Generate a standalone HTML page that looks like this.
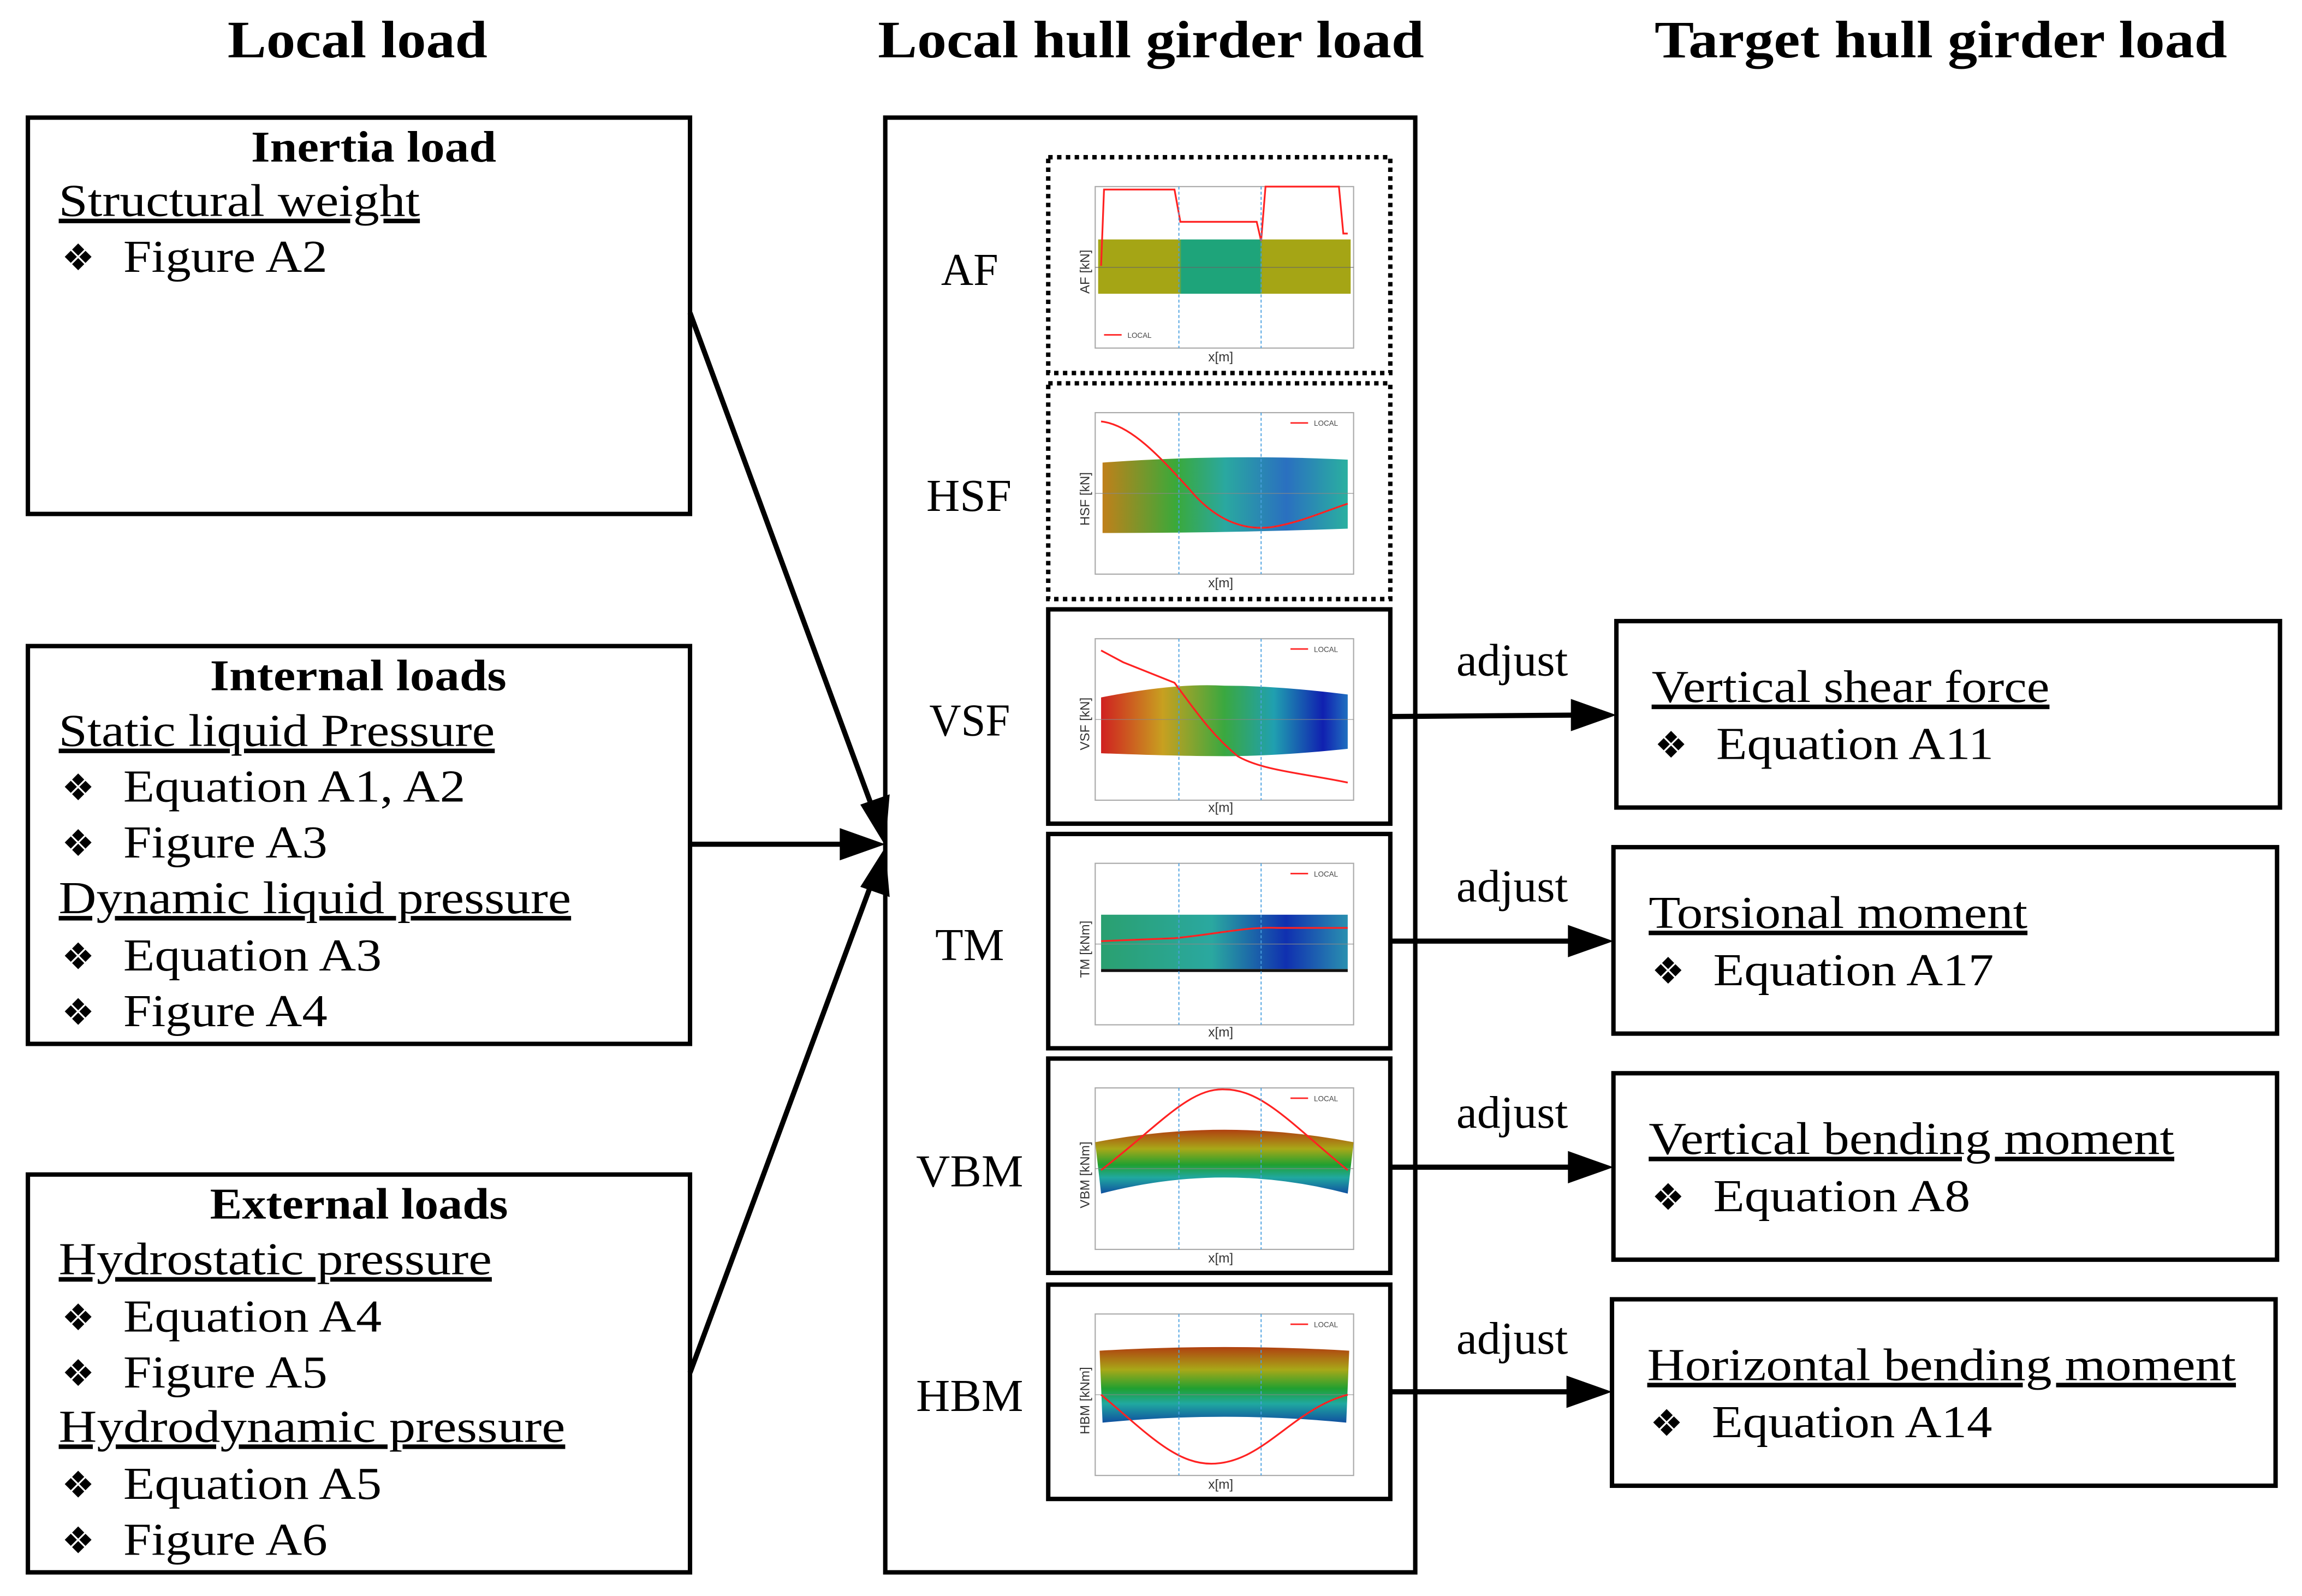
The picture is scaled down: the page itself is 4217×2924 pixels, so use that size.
<!DOCTYPE html>
<html><head><meta charset="utf-8"><style>
html,body{margin:0;padding:0;background:#fff}
svg{display:block}
text{font-family:"Liberation Serif",serif;fill:#000}
.t{font-weight:bold;font-size:36px}
.h{font-weight:bold;font-size:30px}
.b{font-size:31px}
.u{text-decoration:underline}
.d{font-family:"DejaVu Sans",sans-serif;font-size:25px}
.pl{font-size:31px}
.sm{font-family:"Liberation Sans",sans-serif;font-size:9px;fill:#333}
.leg{font-family:"Liberation Sans",sans-serif;font-size:5px;fill:#444}
</style></head><body>
<svg width="4217" height="2924" viewBox="0 0 1568 1087" xmlns="http://www.w3.org/2000/svg">
<defs>
<linearGradient id="gAF" x1="0" x2="1"><stop offset="0" stop-color="#a5a515"/><stop offset="0.32" stop-color="#a5a515"/><stop offset="0.33" stop-color="#1ea47a"/><stop offset="0.64" stop-color="#1ea47a"/><stop offset="0.65" stop-color="#a5a515"/><stop offset="1" stop-color="#a5a515"/></linearGradient>
<linearGradient id="gHSF" x1="0" x2="1"><stop offset="0" stop-color="#c0801a"/><stop offset="0.3" stop-color="#3aa93a"/><stop offset="0.5" stop-color="#2aa8a0"/><stop offset="0.75" stop-color="#2a70c0"/><stop offset="1" stop-color="#2ab0a0"/></linearGradient>
<linearGradient id="gVSF" x1="0" x2="1"><stop offset="0" stop-color="#d02020"/><stop offset="0.25" stop-color="#c8a020"/><stop offset="0.5" stop-color="#3aa840"/><stop offset="0.7" stop-color="#20a0b0"/><stop offset="0.9" stop-color="#1020b0"/><stop offset="1" stop-color="#2070c0"/></linearGradient>
<linearGradient id="gTM" x1="0" x2="1"><stop offset="0" stop-color="#2aa070"/><stop offset="0.45" stop-color="#2aa8a0"/><stop offset="0.75" stop-color="#1030b0"/><stop offset="1" stop-color="#2a90b0"/></linearGradient>
<linearGradient id="gV" x1="0" x2="0" y1="0" y2="1"><stop offset="0" stop-color="#b04010"/><stop offset="0.3" stop-color="#a8a818"/><stop offset="0.55" stop-color="#20a030"/><stop offset="0.75" stop-color="#20a8a0"/><stop offset="1" stop-color="#1050a0"/></linearGradient>
</defs>

<text class="t" x="155" y="39" textLength="177" lengthAdjust="spacingAndGlyphs">Local load</text>
<text class="t" x="598" y="39" textLength="372" lengthAdjust="spacingAndGlyphs">Local hull girder load</text>
<text class="t" x="1127" y="39" textLength="390" lengthAdjust="spacingAndGlyphs">Target hull girder load</text>

<g fill="none" stroke="#000" stroke-width="3">
<rect x="19" y="80" width="451" height="270"/>
<rect x="19" y="440" width="451" height="271"/>
<rect x="19" y="800" width="451" height="271"/>
<rect x="603" y="80" width="361" height="991"/>
<rect x="1101" y="423" width="452" height="127"/>
<rect x="1099" y="577" width="452" height="127"/>
<rect x="1099" y="731" width="452" height="127"/>
<rect x="1098" y="885" width="452" height="127"/>
</g>

<text class="h" x="171" y="110" textLength="167" lengthAdjust="spacingAndGlyphs">Inertia load</text>
<text class="b u" x="40" y="147" textLength="246" lengthAdjust="spacingAndGlyphs">Structural weight</text>
<text class="d" x="42" y="184">❖</text><text class="b" x="84" y="185" textLength="139" lengthAdjust="spacingAndGlyphs">Figure A2</text>

<text class="h" x="143" y="470" textLength="202" lengthAdjust="spacingAndGlyphs">Internal loads</text>
<text class="b u" x="40" y="508" textLength="297" lengthAdjust="spacingAndGlyphs">Static liquid Pressure</text>
<text class="d" x="42" y="545">❖</text><text class="b" x="84" y="546" textLength="233" lengthAdjust="spacingAndGlyphs">Equation A1, A2</text>
<text class="d" x="42" y="583">❖</text><text class="b" x="84" y="584" textLength="139" lengthAdjust="spacingAndGlyphs">Figure A3</text>
<text class="b u" x="40" y="622" textLength="349" lengthAdjust="spacingAndGlyphs">Dynamic liquid pressure</text>
<text class="d" x="42" y="660">❖</text><text class="b" x="84" y="661" textLength="176" lengthAdjust="spacingAndGlyphs">Equation A3</text>
<text class="d" x="42" y="698">❖</text><text class="b" x="84" y="699" textLength="139" lengthAdjust="spacingAndGlyphs">Figure A4</text>

<text class="h" x="143" y="830" textLength="203" lengthAdjust="spacingAndGlyphs">External loads</text>
<text class="b u" x="40" y="868" textLength="295" lengthAdjust="spacingAndGlyphs">Hydrostatic pressure</text>
<text class="d" x="42" y="906">❖</text><text class="b" x="84" y="907" textLength="176" lengthAdjust="spacingAndGlyphs">Equation A4</text>
<text class="d" x="42" y="944">❖</text><text class="b" x="84" y="945" textLength="139" lengthAdjust="spacingAndGlyphs">Figure A5</text>
<text class="b u" x="40" y="982" textLength="345" lengthAdjust="spacingAndGlyphs">Hydrodynamic pressure</text>
<text class="d" x="42" y="1020">❖</text><text class="b" x="84" y="1021" textLength="176" lengthAdjust="spacingAndGlyphs">Equation A5</text>
<text class="d" x="42" y="1058">❖</text><text class="b" x="84" y="1059" textLength="139" lengthAdjust="spacingAndGlyphs">Figure A6</text>

<text class="b u" x="1125" y="478" textLength="271" lengthAdjust="spacingAndGlyphs">Vertical shear force</text>
<text class="d" x="1127" y="516">❖</text><text class="b" x="1169" y="517" textLength="189" lengthAdjust="spacingAndGlyphs">Equation A11</text>
<text class="b u" x="1123" y="632" textLength="258" lengthAdjust="spacingAndGlyphs">Torsional moment</text>
<text class="d" x="1125" y="670">❖</text><text class="b" x="1167" y="671" textLength="191" lengthAdjust="spacingAndGlyphs">Equation A17</text>
<text class="b u" x="1123" y="786" textLength="358" lengthAdjust="spacingAndGlyphs">Vertical bending moment</text>
<text class="d" x="1125" y="824">❖</text><text class="b" x="1167" y="825" textLength="175" lengthAdjust="spacingAndGlyphs">Equation A8</text>
<text class="b u" x="1122" y="940" textLength="401" lengthAdjust="spacingAndGlyphs">Horizontal bending moment</text>
<text class="d" x="1124" y="978">❖</text><text class="b" x="1166" y="979" textLength="191" lengthAdjust="spacingAndGlyphs">Equation A14</text>

<text class="b" x="992" y="460" textLength="76" lengthAdjust="spacingAndGlyphs">adjust</text>
<text class="b" x="992" y="614" textLength="76" lengthAdjust="spacingAndGlyphs">adjust</text>
<text class="b" x="992" y="768" textLength="76" lengthAdjust="spacingAndGlyphs">adjust</text>
<text class="b" x="992" y="922" textLength="76" lengthAdjust="spacingAndGlyphs">adjust</text>

<g stroke="#000" stroke-width="3.5" fill="none">
<line x1="470" y1="213" x2="596" y2="555"/>
<line x1="470" y1="575" x2="580" y2="575"/>
<line x1="470" y1="935" x2="595" y2="598"/>
<line x1="947" y1="488" x2="1075" y2="487"/>
<line x1="947" y1="641" x2="1073" y2="641"/>
<line x1="947" y1="795" x2="1073" y2="795"/>
<line x1="947" y1="948" x2="1073" y2="948"/>
</g>
<g fill="#000">
<polygon points="603,576 586,548 606,541"/>
<polygon points="603,575 572,564 572,586"/>
<polygon points="603,577 586,604 606,611"/>
<polygon points="1101,487 1070,476 1070,498"/>
<polygon points="1099,641 1068,630 1068,652"/>
<polygon points="1099,795 1068,784 1068,806"/>
<polygon points="1098,948 1067,937 1067,959"/>
</g>

<text class="pl" x="641" y="194" textLength="39" lengthAdjust="spacingAndGlyphs">AF</text>
<text class="pl" x="631" y="348" textLength="58" lengthAdjust="spacingAndGlyphs">HSF</text>
<text class="pl" x="633" y="501" textLength="55" lengthAdjust="spacingAndGlyphs">VSF</text>
<text class="pl" x="637" y="654" textLength="47" lengthAdjust="spacingAndGlyphs">TM</text>
<text class="pl" x="624" y="808" textLength="73" lengthAdjust="spacingAndGlyphs">VBM</text>
<text class="pl" x="624" y="961" textLength="73" lengthAdjust="spacingAndGlyphs">HBM</text>

<g fill="none" stroke="#000" stroke-width="3">
<rect x="714" y="107" width="233" height="147" stroke-dasharray="3,3"/>
<rect x="714" y="261" width="233" height="147" stroke-dasharray="3,3"/>
<rect x="714" y="415" width="233" height="146"/>
<rect x="714" y="568" width="233" height="146"/>
<rect x="714" y="721" width="233" height="146"/>
<rect x="714" y="875" width="233" height="146"/>
</g>

<g transform="translate(0,107)">
<rect x="746" y="20" width="176" height="110" fill="#fff" stroke="#aaa" stroke-width="0.8"/>
<rect x="748" y="56" width="172" height="37" fill="url(#gAF)"/>
<line x1="746" y1="75" x2="922" y2="75" stroke="#666" stroke-width="0.4"/>
<polyline points="750,74 752,22 800,22 804,44 856,44 859,57 862,20 912,20 915,52 918,52" fill="none" stroke="#f22" stroke-width="1.2"/>
<line x1="752" y1="121" x2="764" y2="121" stroke="#f22" stroke-width="1"/><text class="leg" x="768" y="123">LOCAL</text>
</g>
<g transform="translate(0,261)">
<rect x="746" y="20" width="176" height="110" fill="#fff" stroke="#aaa" stroke-width="0.8"/>
<path d="M751,54 Q834,48 918,52 L918,99 Q834,102 751,102 Z" fill="url(#gHSF)"/>
<line x1="746" y1="75" x2="922" y2="75" stroke="#888" stroke-width="0.4"/>
<path d="M750,26 C770,28 790,50 810,72 C830,96 850,100 866,98 C885,95 900,88 918,82" fill="none" stroke="#f22" stroke-width="1.2"/>
<line x1="879" y1="27" x2="891" y2="27" stroke="#f22" stroke-width="1"/><text class="leg" x="895" y="29">LOCAL</text>
</g>
<g transform="translate(0,415)">
<rect x="746" y="20" width="176" height="110" fill="#fff" stroke="#aaa" stroke-width="0.8"/>
<path d="M750,60 Q800,50 834,52 Q870,52 918,58 L918,95 Q870,100 834,100 Q800,100 750,98 Z" fill="url(#gVSF)"/>
<line x1="746" y1="75" x2="922" y2="75" stroke="#888" stroke-width="0.4"/>
<path d="M750,28 L765,36 L800,50 C815,70 825,85 843,100 C860,110 890,112 918,118" fill="none" stroke="#f22" stroke-width="1.2"/>
<line x1="879" y1="27" x2="891" y2="27" stroke="#f22" stroke-width="1"/><text class="leg" x="895" y="29">LOCAL</text>
</g>
<g transform="translate(0,568)">
<rect x="746" y="20" width="176" height="110" fill="#fff" stroke="#aaa" stroke-width="0.8"/>
<rect x="750" y="55" width="168" height="37" fill="url(#gTM)"/>
<line x1="750" y1="93" x2="918" y2="93" stroke="#111" stroke-width="2"/>
<line x1="746" y1="75" x2="922" y2="75" stroke="#888" stroke-width="0.4"/>
<path d="M750,73 L800,71 C830,68 850,63 870,64 L918,64" fill="none" stroke="#f22" stroke-width="1.2"/>
<line x1="879" y1="27" x2="891" y2="27" stroke="#f22" stroke-width="1"/><text class="leg" x="895" y="29">LOCAL</text>
</g>
<g transform="translate(0,721)">
<rect x="746" y="20" width="176" height="110" fill="#fff" stroke="#aaa" stroke-width="0.8"/>
<path d="M746,57 Q834,40 922,57 L918,92 Q834,70 750,92 Z" fill="url(#gV)"/>
<line x1="746" y1="75" x2="922" y2="75" stroke="#888" stroke-width="0.4"/>
<path d="M750,76 C790,45 810,20 834,21 C860,21 880,45 918,76" fill="none" stroke="#f22" stroke-width="1.2"/>
<line x1="879" y1="27" x2="891" y2="27" stroke="#f22" stroke-width="1"/><text class="leg" x="895" y="29">LOCAL</text>
</g>
<g transform="translate(0,875)">
<rect x="746" y="20" width="176" height="110" fill="#fff" stroke="#aaa" stroke-width="0.8"/>
<path d="M749,45 Q834,40 919,45 L917,94 Q834,86 751,94 Z" fill="url(#gV)"/>
<line x1="746" y1="75" x2="922" y2="75" stroke="#888" stroke-width="0.4"/>
<path d="M750,75 C780,100 800,122 825,122 C860,122 880,85 918,75" fill="none" stroke="#f22" stroke-width="1.2"/>
<line x1="879" y1="27" x2="891" y2="27" stroke="#f22" stroke-width="1"/><text class="leg" x="895" y="29">LOCAL</text>
</g>

<g stroke="#4aa0e0" stroke-width="0.7" stroke-dasharray="2,1.5">
<line x1="803" y1="127" x2="803" y2="237"/><line x1="859" y1="127" x2="859" y2="237"/>
<line x1="803" y1="281" x2="803" y2="391"/><line x1="859" y1="281" x2="859" y2="391"/>
<line x1="803" y1="435" x2="803" y2="545"/><line x1="859" y1="435" x2="859" y2="545"/>
<line x1="803" y1="588" x2="803" y2="698"/><line x1="859" y1="588" x2="859" y2="698"/>
<line x1="803" y1="741" x2="803" y2="851"/><line x1="859" y1="741" x2="859" y2="851"/>
<line x1="803" y1="895" x2="803" y2="1005"/><line x1="859" y1="895" x2="859" y2="1005"/>
</g>
<g>
<text class="sm" x="823" y="246">x[m]</text>
<text class="sm" x="823" y="400">x[m]</text>
<text class="sm" x="823" y="553">x[m]</text>
<text class="sm" x="823" y="706">x[m]</text>
<text class="sm" x="823" y="860">x[m]</text>
<text class="sm" x="823" y="1014">x[m]</text>
<text class="sm" transform="translate(742,200) rotate(-90)">AF [kN]</text>
<text class="sm" transform="translate(742,358) rotate(-90)">HSF [kN]</text>
<text class="sm" transform="translate(742,511) rotate(-90)">VSF [kN]</text>
<text class="sm" transform="translate(742,666) rotate(-90)">TM [kNm]</text>
<text class="sm" transform="translate(742,823) rotate(-90)">VBM [kNm]</text>
<text class="sm" transform="translate(742,977) rotate(-90)">HBM [kNm]</text>
</g>
</svg>
</body></html>
